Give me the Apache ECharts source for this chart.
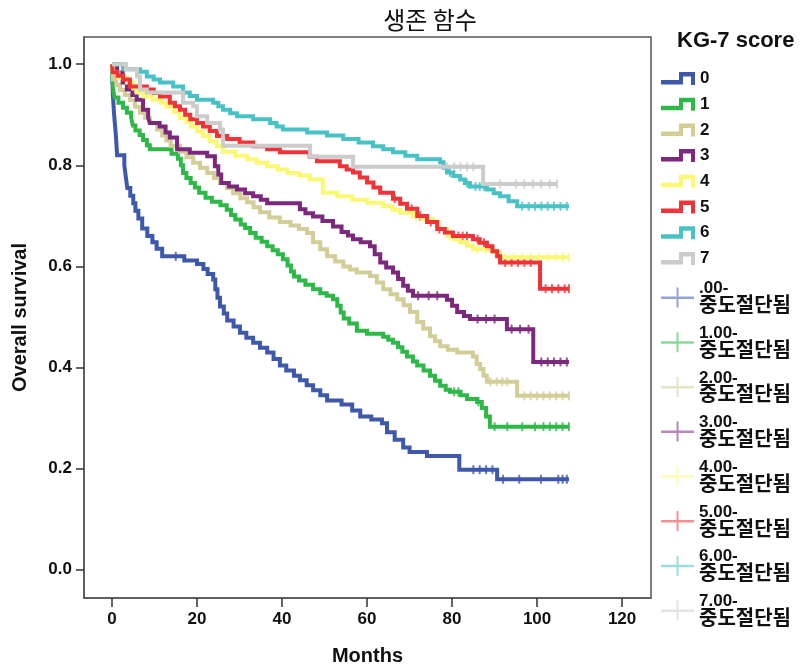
<!DOCTYPE html>
<html><head><meta charset="utf-8">
<script src="https://cdn.jsdelivr.net/npm/echarts@6/dist/echarts.min.js"></script>
<style>html,body{margin:0;padding:0;background:#fff}#c{width:801px;height:671px}</style>
</head><body><div id="c"></div>
<script>
const chartTitle = '생존 함수';
const legendTitle = 'KG-7 score';
const xAxisTitle = 'Months';
const yAxisTitle = 'Overall survival';
const groupNames = ['0','1','2','3','4','5','6','7'];
const censorNames = ['.00-중도절단됨','1.00-중도절단됨','2.00-중도절단됨','3.00-중도절단됨','4.00-중도절단됨','5.00-중도절단됨','6.00-중도절단됨','7.00-중도절단됨'];
const colors = ['#3E58AC','#2EB848','#D3CE97','#7C287D','#FBF873','#EF3338','#48C2C5','#CCCCCC'];
const xTicks = [0,20,40,60,80,100,120];
const yTicks = [0,0.2,0.4,0.6,0.8,1.0];

// [month, survival] steps (Kaplan-Meier), last point = last follow-up
const curve0 = [[0,1],[0.2,0.94],[0.5,0.90],[0.9,0.86],[1.2,0.82],[2.9,0.80],[3.2,0.78],[3.6,0.755],[4.3,0.74],[5.0,0.725],[5.5,0.71],[6.2,0.695],[7.1,0.675],[8.3,0.66],[9.5,0.648],[10.5,0.635],[11.8,0.62],[17.0,0.612],[20.0,0.605],[21.5,0.595],[22.5,0.585],[23.8,0.574],[24.3,0.555],[24.8,0.538],[25.4,0.521],[26.3,0.507],[27.1,0.493],[28.6,0.481],[30.1,0.469],[31.6,0.459],[33.2,0.449],[34.8,0.439],[36.5,0.43],[38.0,0.417],[39.5,0.404],[41.0,0.394],[42.8,0.384],[44.2,0.375],[45.8,0.365],[47.3,0.355],[49.0,0.345],[50.6,0.335],[54.0,0.327],[56.5,0.315],[58.4,0.303],[61.0,0.297],[63.5,0.29],[64.7,0.272],[66.5,0.257],[68.5,0.242],[70.0,0.233],[74.1,0.225],[81.7,0.198],[90.6,0.179],[107.5,0.179]];
const curve1 = [[0,1],[0.1,0.97],[0.3,0.95],[0.6,0.934],[1.5,0.924],[2.6,0.914],[3.5,0.904],[4.5,0.894],[4.9,0.879],[5.5,0.869],[6.5,0.86],[7.3,0.85],[8.2,0.84],[8.9,0.832],[14.0,0.823],[15.5,0.813],[16.2,0.80],[16.7,0.785],[17.5,0.775],[18.5,0.765],[19.5,0.756],[20.5,0.746],[22.0,0.736],[23.5,0.728],[25.5,0.721],[27.0,0.712],[28.0,0.702],[29.0,0.693],[30.3,0.683],[31.3,0.676],[32.5,0.666],[33.8,0.657],[35.2,0.649],[36.5,0.64],[37.8,0.632],[39.0,0.624],[40.2,0.614],[41.3,0.602],[42.1,0.59],[42.8,0.58],[44.0,0.572],[45.5,0.564],[47.3,0.555],[49.0,0.547],[50.5,0.542],[52.0,0.535],[53.0,0.522],[53.8,0.509],[54.5,0.497],[55.8,0.487],[57.6,0.473],[60.0,0.467],[63.8,0.461],[65.0,0.455],[66.1,0.449],[67.3,0.44],[68.3,0.431],[69.4,0.422],[70.8,0.412],[71.8,0.404],[73.3,0.394],[74.8,0.384],[76.0,0.374],[77.2,0.364],[78.5,0.356],[79.5,0.352],[82.0,0.345],[83.5,0.338],[85.9,0.332],[87.0,0.32],[88.0,0.303],[88.9,0.283],[107.5,0.283]];
const curve2 = [[0,1],[0.2,0.97],[1.0,0.959],[1.9,0.949],[3.0,0.939],[4.2,0.929],[5.4,0.916],[6.6,0.904],[7.8,0.894],[8.9,0.884],[10.6,0.871],[11.8,0.859],[12.8,0.849],[13.8,0.839],[16.0,0.827],[17.5,0.816],[19.1,0.805],[20.7,0.795],[22.4,0.785],[24.0,0.775],[25.4,0.765],[27.0,0.755],[28.5,0.745],[30.2,0.735],[31.8,0.727],[33.3,0.717],[34.8,0.707],[37.0,0.697],[39.5,0.688],[42.0,0.681],[44.0,0.674],[45.9,0.666],[47.3,0.648],[49.0,0.634],[50.6,0.62],[52.5,0.61],[54.4,0.60],[56.0,0.594],[57.6,0.588],[60.7,0.581],[62.3,0.568],[63.8,0.555],[65.5,0.545],[67.1,0.535],[68.6,0.523],[70.1,0.51],[71.8,0.49],[73.2,0.477],[74.8,0.462],[76.0,0.452],[77.2,0.442],[79.0,0.435],[81.2,0.43],[84.9,0.422],[85.8,0.407],[86.6,0.397],[87.4,0.384],[88.2,0.372],[95.3,0.344],[107.5,0.344]];
const curve3 = [[0,1],[1.2,0.984],[2.5,0.964],[3.5,0.95],[4.8,0.939],[5.8,0.93],[7.3,0.91],[8.5,0.894],[8.9,0.884],[11.2,0.877],[12.6,0.865],[13.6,0.855],[15.3,0.832],[18.3,0.825],[22.4,0.818],[24.2,0.798],[25.0,0.782],[25.7,0.765],[27.5,0.758],[29.4,0.752],[31.3,0.745],[33.2,0.739],[35.0,0.732],[36.5,0.725],[44.2,0.713],[45.5,0.705],[47.3,0.699],[49.5,0.69],[52.0,0.679],[54.0,0.668],[55.5,0.661],[56.7,0.654],[58.5,0.648],[60.7,0.64],[61.8,0.624],[63.1,0.608],[64.5,0.598],[66.1,0.588],[67.3,0.575],[68.5,0.562],[69.6,0.552],[70.8,0.542],[78.8,0.534],[80.0,0.522],[81.2,0.51],[82.8,0.502],[84.2,0.496],[92.9,0.476],[99.1,0.411],[107.5,0.411]];
const curve4 = [[0,1],[0.3,0.984],[1.5,0.974],[3.5,0.964],[5.0,0.952],[5.8,0.944],[7.5,0.936],[9.6,0.93],[11.5,0.924],[12.8,0.916],[14.5,0.906],[16.0,0.894],[17.5,0.886],[18.6,0.877],[20.0,0.867],[21.4,0.858],[23.0,0.848],[24.6,0.838],[26.1,0.827],[29.0,0.819],[31.8,0.812],[34.0,0.805],[36.5,0.798],[39.0,0.792],[41.2,0.785],[44.0,0.78],[46.5,0.772],[49.6,0.746],[53.0,0.739],[56.5,0.732],[60.0,0.726],[63.8,0.719],[66.0,0.712],[67.8,0.706],[70.8,0.699],[73.0,0.694],[75.5,0.688],[76.8,0.674],[78.8,0.66],[80.3,0.654],[81.9,0.648],[83.5,0.641],[84.9,0.634],[89.6,0.628],[91.3,0.618],[107.5,0.618]];
const curve5 = [[0,1],[0.2,0.984],[1.3,0.977],[2.6,0.97],[4.2,0.956],[8.2,0.95],[9.8,0.943],[11.3,0.936],[13.6,0.924],[14.8,0.917],[16.0,0.91],[17.2,0.9],[18.4,0.891],[20.0,0.884],[21.4,0.877],[23.0,0.868],[24.7,0.858],[27.1,0.852],[30.0,0.845],[33.2,0.838],[36.5,0.832],[39.5,0.826],[46.5,0.817],[48.2,0.808],[53.6,0.798],[55.2,0.792],[56.7,0.786],[58.3,0.776],[60.0,0.766],[61.5,0.756],[63.1,0.746],[66.1,0.734],[67.8,0.724],[69.4,0.714],[71.8,0.70],[74.1,0.688],[76.5,0.674],[78.3,0.667],[80.2,0.66],[84.9,0.654],[86.5,0.647],[88.2,0.64],[89.5,0.63],[90.6,0.62],[91.3,0.608],[100.7,0.556],[107.5,0.556]];
const curve6 = [[0,1],[2.6,0.99],[6.6,0.985],[8.2,0.976],[9.8,0.97],[11.3,0.964],[14.4,0.956],[16.7,0.944],[18.3,0.937],[20.0,0.93],[23.8,0.924],[25.0,0.917],[26.1,0.91],[27.8,0.903],[29.4,0.897],[33.2,0.891],[37.2,0.884],[38.7,0.877],[40.2,0.871],[45.9,0.865],[50.6,0.859],[54.4,0.852],[58.0,0.845],[61.4,0.838],[63.8,0.832],[66.1,0.826],[69.0,0.819],[71.8,0.812],[77.2,0.806],[78.0,0.795],[78.8,0.786],[80.3,0.779],[81.9,0.772],[83.0,0.765],[84.2,0.758],[88.2,0.752],[89.8,0.745],[91.3,0.739],[93.3,0.729],[95.3,0.719],[107.5,0.719]];
const curve7 = [[0,1],[3.3,0.99],[5.9,0.976],[6.6,0.95],[8.2,0.944],[16.7,0.924],[19.1,0.917],[20.0,0.897],[22.4,0.884],[25.4,0.871],[26.1,0.839],[46.6,0.817],[56.7,0.797],[87.3,0.763],[104.7,0.763]];

// censored observation times (months)
const cens0 = [15,85,86.5,88,89.5,92,95.8,100.9,105,106,107];
const cens1 = [80.5,81.5,86.2,90,93,96.5,99.5,101.5,103,104.5,106,107.5];
const cens2 = [89,90.5,91.8,93,97,98.5,100,101.5,103,104.5,106,107.5];
const cens3 = [72,74.5,76.5,86,88,90,94,96,98,101,102.5,104,105.5,107];
const cens4 = [71.5,72.5,79.5,86,88,92.5,94.5,96.5,98.5,100.5,102.5,104.5,106,107.5];
const cens5 = [20,66.5,70.5,72.5,75,77,79,81.5,82.5,83.5,86,87.5,92.5,94,95.5,97,98.5,102,103.5,105,106.5,107.5];
const cens6 = [79.5,83.5,85.5,86.5,87.5,96.5,98,99.5,101,102.5,104,105.5,107];
const cens7 = [78.8,80.5,82,83.5,85,91.3,95,97,99,101,103,104.7];

const curves = [curve0,curve1,curve2,curve3,curve4,curve5,curve6,curve7];
const censors = [cens0,cens1,cens2,cens3,cens4,cens5,cens6,cens7];

function levelAt(curve, t) {
  let v = curve[0][1];
  for (const p of curve) { if (p[0] <= t) v = p[1]; else break; }
  return v;
}

const FONT = "'Liberation Sans', Arial, sans-serif";
const KFONT = "'Noto Sans CJK KR', sans-serif";
const stepIcon = 'path://M0,8 L18,8 L18,0 L34,0 L34,13 L30,13 L30,4.5 L22,4.5 L22,12.5 L0,12.5 Z';
const censorIcon = 'path://M0,9 L33,9 L33,11.5 L0,11.5 Z M15.5,0 L17.5,0 L17.5,20 L15.5,20 Z';

const series = [];
curves.forEach((c, i) => {
  series.push({
    type: 'line', name: groupNames[i], data: c, step: 'end',
    showSymbol: false, symbol: 'none',
    lineStyle: { color: colors[i], width: 4, join: 'miter' },
    itemStyle: { color: colors[i] }, silent: true
  });
  series.push({
    type: 'scatter', name: censorNames[i],
    data: censors[i].map(t => [t, levelAt(c, t)]),
    symbol: 'rect', symbolSize: [2, 9],
    itemStyle: { color: colors[i] }, silent: true
  });
});

const option = {
  animation: false,
  grid: { left: 84, top: 37, width: 567, height: 562, show: true, borderColor: '#555', borderWidth: 1.5 },
  xAxis: {
    type: 'value', min: -6.59, max: 126.8,
    name: xAxisTitle, nameLocation: 'middle', nameGap: 48,
    nameTextStyle: { fontFamily: FONT, fontWeight: 'bold', fontSize: 20, color: '#111' },
    axisLine: { show: true, onZero: false, lineStyle: { color: '#555', width: 1.5 } },
    axisTick: { show: true, length: 9, customValues: xTicks, lineStyle: { color: '#333', width: 1.5 } },
    axisLabel: { customValues: xTicks, margin: 13, fontFamily: FONT, fontWeight: 'bold', fontSize: 17, color: '#111' },
    splitLine: { show: false }
  },
  yAxis: {
    type: 'value', min: -0.0559, max: 1.0539,
    name: yAxisTitle, nameLocation: 'middle', nameGap: 54,
    nameTextStyle: { fontFamily: FONT, fontWeight: 'bold', fontSize: 20, color: '#111' },
    axisLine: { show: true, onZero: false, lineStyle: { color: '#555', width: 1.5 } },
    axisTick: { show: true, length: 8, customValues: yTicks, lineStyle: { color: '#333', width: 1.5 } },
    axisLabel: { customValues: yTicks, margin: 12, fontFamily: FONT, fontWeight: 'bold', fontSize: 17, color: '#111',
      formatter: v => v.toFixed(1) },
    splitLine: { show: false }
  },
  legend: [
    {
      orient: 'vertical', left: 661, top: 70, padding: 0,
      itemWidth: 34, itemHeight: 13, itemGap: 8.7,
      icon: stepIcon, data: groupNames, selectedMode: false,
      itemStyle: { borderWidth: 0 },
      textStyle: { fontFamily: FONT, fontWeight: 'bold', fontSize: 17, lineHeight: 16, color: '#111' }
    },
    {
      orient: 'vertical', left: 661, top: 280, padding: 0,
      itemWidth: 33, itemHeight: 20, itemGap: 10.2,
      icon: censorIcon, selectedMode: false,
      data: censorNames.map(n => ({ name: n, itemStyle: { opacity: 0.55 } })),
      itemStyle: { borderWidth: 0 },
      formatter: n => { const k = n.indexOf('-'); return '{a|' + n.slice(0, k + 1) + '}\n{b|' + n.slice(k + 1) + '}'; },
      textStyle: {
        rich: {
          a: { fontFamily: FONT, fontWeight: 'bold', fontSize: 17, lineHeight: 14, color: '#111' },
          b: { fontFamily: KFONT, fontWeight: 'bold', fontSize: 20, lineHeight: 18, color: '#111' }
        }
      }
    }
  ],
  graphic: [
    { type: 'text', x: 430, y: 20, silent: true,
      style: { text: chartTitle, fontFamily: KFONT, fontSize: 24, fontWeight: 'normal', fill: '#111', align: 'center', verticalAlign: 'middle' } },
    { type: 'text', x: 677, y: 41, silent: true,
      style: { text: legendTitle, fontFamily: FONT, fontSize: 22, fontWeight: 'bold', fill: '#111', align: 'left', verticalAlign: 'middle' } }
  ],
  series: series
};

const chart = echarts.init(document.getElementById('c'), null, { renderer: 'canvas' });
chart.setOption(option);
</script>
</body></html>
